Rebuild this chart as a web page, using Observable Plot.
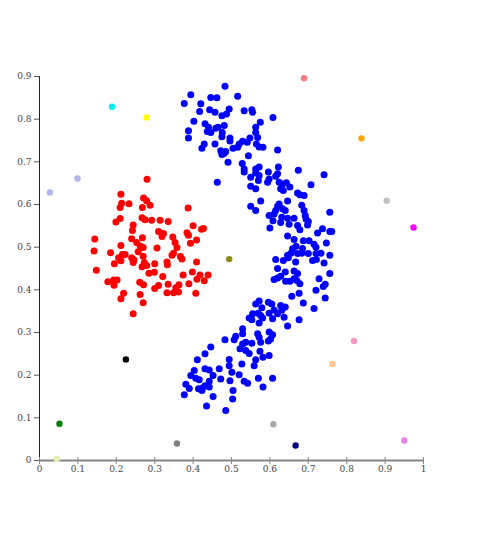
<!DOCTYPE html>
<html>
<head>
<meta charset="utf-8">
<script src="https://cdn.jsdelivr.net/npm/d3@7"></script>
<script src="https://cdn.jsdelivr.net/npm/@observablehq/plot@0.6"></script>
<style>
  body { margin: 0; background: #fff; }
  svg text { font-family: "DejaVu Serif", serif; }
</style>
</head>
<body>
<div id="chart"></div>
<script>
// Cluster 1 (red)
const redPoints = [
  [0.280,0.659],[0.212,0.624],[0.271,0.615],[0.279,0.609],[0.288,0.598],[0.268,0.593],[0.233,0.602],[0.214,0.603],
  [0.210,0.593],[0.387,0.592],[0.210,0.567],[0.199,0.559],[0.267,0.569],[0.275,0.564],[0.292,0.563],[0.314,0.563],
  [0.335,0.560],[0.244,0.552],[0.400,0.550],[0.422,0.542],[0.427,0.544],[0.242,0.539],[0.310,0.537],[0.323,0.532],
  [0.319,0.525],[0.384,0.534],[0.388,0.528],[0.144,0.519],[0.240,0.520],[0.268,0.522],[0.347,0.524],[0.409,0.517],
  [0.253,0.511],[0.393,0.509],[0.353,0.511],[0.212,0.504],[0.262,0.503],[0.270,0.499],[0.306,0.498],[0.358,0.499],
  [0.142,0.491],[0.185,0.487],[0.257,0.489],[0.349,0.486],[0.345,0.481],[0.223,0.483],[0.216,0.483],[0.206,0.475],
  [0.212,0.468],[0.240,0.475],[0.246,0.470],[0.270,0.479],[0.367,0.478],[0.371,0.472],[0.195,0.461],[0.244,0.464],
  [0.273,0.464],[0.267,0.454],[0.279,0.457],[0.300,0.461],[0.332,0.465],[0.333,0.459],[0.409,0.465],[0.148,0.446],
  [0.285,0.439],[0.299,0.441],[0.374,0.435],[0.398,0.442],[0.321,0.431],[0.418,0.435],[0.439,0.435],[0.410,0.425],
  [0.429,0.421],[0.178,0.419],[0.193,0.423],[0.202,0.423],[0.261,0.418],[0.271,0.412],[0.194,0.411],[0.389,0.414],
  [0.310,0.410],[0.300,0.403],[0.335,0.413],[0.363,0.412],[0.355,0.405],[0.219,0.392],[0.212,0.379],[0.262,0.389],
  [0.332,0.393],[0.349,0.393],[0.362,0.395],[0.407,0.392],[0.270,0.370],[0.244,0.344]
];

// Cluster 2 (blue), S-shaped
const bluePoints = [
  [0.483,0.877],[0.394,0.857],[0.446,0.851],[0.462,0.850],[0.516,0.854],[0.377,0.837],[0.420,0.836],[0.417,0.818],
  [0.443,0.822],[0.457,0.816],[0.494,0.824],[0.487,0.812],[0.475,0.808],[0.533,0.820],[0.553,0.822],[0.555,0.816],
  [0.608,0.804],[0.402,0.795],[0.431,0.789],[0.481,0.785],[0.440,0.781],[0.459,0.779],[0.465,0.781],[0.575,0.793],
  [0.563,0.781],[0.563,0.769],[0.388,0.773],[0.446,0.769],[0.437,0.771],[0.476,0.769],[0.475,0.759],[0.568,0.757],
  [0.388,0.756],[0.496,0.756],[0.496,0.749],[0.548,0.756],[0.541,0.746],[0.529,0.748],[0.520,0.742],[0.516,0.734],
  [0.457,0.742],[0.429,0.742],[0.423,0.732],[0.565,0.742],[0.572,0.735],[0.582,0.734],[0.504,0.732],[0.620,0.728],
  [0.472,0.726],[0.485,0.724],[0.475,0.717],[0.481,0.720],[0.544,0.714],[0.491,0.699],[0.528,0.696],[0.533,0.683],
  [0.572,0.688],[0.563,0.683],[0.622,0.688],[0.463,0.652],
  [0.533,0.676],[0.563,0.674],[0.572,0.668],[0.596,0.676],[0.620,0.672],[0.615,0.666],[0.674,0.680],[0.741,0.670],
  [0.550,0.664],[0.570,0.656],[0.598,0.660],[0.594,0.652],[0.624,0.652],[0.633,0.648],[0.643,0.651],[0.652,0.641],
  [0.550,0.643],[0.563,0.637],[0.628,0.637],[0.635,0.633],[0.707,0.646],[0.672,0.627],[0.678,0.623],[0.689,0.621],
  [0.576,0.608],[0.646,0.608],[0.624,0.601],[0.620,0.596],[0.550,0.596],[0.563,0.586],[0.683,0.598],[0.689,0.586],
  [0.633,0.590],[0.640,0.586],[0.615,0.586],[0.611,0.578],[0.598,0.574],[0.692,0.574],[0.694,0.566],[0.756,0.582],
  [0.631,0.570],[0.646,0.568],[0.663,0.568],[0.608,0.562],[0.700,0.560],[0.698,0.552],[0.628,0.558],[0.650,0.554],
  [0.672,0.551],[0.678,0.541],[0.600,0.545],[0.737,0.543],[0.724,0.533],[0.756,0.537],[0.761,0.537],[0.646,0.526],
  [0.663,0.518],[0.687,0.515],[0.702,0.515],[0.715,0.507],[0.720,0.500],[0.747,0.510],[0.668,0.502],[0.659,0.496],
  [0.685,0.497],
  [0.646,0.481],[0.655,0.486],[0.672,0.485],[0.683,0.486],[0.700,0.485],[0.720,0.485],[0.733,0.486],[0.756,0.481],
  [0.615,0.471],[0.635,0.469],[0.648,0.475],[0.667,0.465],[0.711,0.469],[0.721,0.471],[0.741,0.463],[0.620,0.450],
  [0.640,0.442],[0.663,0.444],[0.672,0.438],[0.756,0.438],[0.611,0.424],[0.620,0.428],[0.628,0.432],[0.641,0.420],
  [0.652,0.420],[0.663,0.426],[0.670,0.422],[0.678,0.414],[0.728,0.426],[0.744,0.413],[0.739,0.408],[0.720,0.399],
  [0.676,0.392],[0.657,0.385],[0.744,0.381],[0.687,0.369],[0.572,0.374],[0.563,0.367],[0.596,0.371],[0.605,0.367],
  [0.628,0.363],[0.640,0.360],[0.579,0.358],[0.611,0.353],[0.715,0.356],[0.555,0.344],[0.569,0.345],[0.576,0.340],
  [0.598,0.345],[0.620,0.344],[0.631,0.352],[0.637,0.336],[0.546,0.334],[0.553,0.330],[0.581,0.334],[0.607,0.332],
  [0.676,0.330],[0.572,0.322],[0.646,0.315],[0.529,0.309],
  [0.529,0.297],[0.511,0.291],[0.507,0.283],[0.568,0.297],[0.572,0.289],[0.598,0.301],[0.607,0.295],[0.602,0.285],
  [0.596,0.280],[0.483,0.283],[0.537,0.277],[0.529,0.273],[0.553,0.275],[0.576,0.277],[0.522,0.262],[0.537,0.258],
  [0.546,0.251],[0.574,0.256],[0.446,0.266],[0.431,0.250],[0.582,0.242],[0.598,0.246],[0.563,0.236],[0.411,0.236],
  [0.494,0.237],[0.527,0.226],[0.559,0.222],[0.494,0.222],[0.431,0.215],[0.442,0.212],[0.468,0.215],[0.403,0.211],
  [0.501,0.207],[0.520,0.201],[0.394,0.199],[0.407,0.193],[0.452,0.199],[0.416,0.189],[0.472,0.191],[0.496,0.187],
  [0.570,0.193],[0.607,0.193],[0.442,0.186],[0.533,0.186],[0.542,0.181],[0.381,0.179],[0.431,0.175],[0.424,0.170],
  [0.442,0.172],[0.390,0.169],[0.414,0.168],[0.423,0.164],[0.582,0.172],[0.504,0.164],[0.377,0.154],[0.452,0.150],
  [0.503,0.144],[0.435,0.128],[0.485,0.117]
];

// Outliers (each its own cluster)
const outlierX = [0.689,0.189,0.279,0.8385,0.099,0.027,0.904,0.974,0.494,0.225,0.819,0.763,0.052,0.045,0.358,0.609,0.667,0.950];
const outlierY = [0.896,0.829,0.804,0.755,0.661,0.628,0.609,0.546,0.472,0.237,0.280,0.226,0.086,0.004,0.040,0.085,0.035,0.047];
const outlierCluster = ["c3","c4","c5","c6","c7","c8","c9","c10","c11","c12","c13","c14","c15","c16","c17","c18","c19","c20"];

const xTicks = [0,0.1,0.2,0.3,0.4,0.5,0.6,0.7,0.8,0.9,1];
const xTickLabels = ["0","0.1","0.2","0.3","0.4","0.5","0.6","0.7","0.8","0.9","1"];
const yTicks = [0,0.1,0.2,0.3,0.4,0.5,0.6,0.7,0.8,0.9];
const yTickLabels = ["0","0.1","0.2","0.3","0.4","0.5","0.6","0.7","0.8","0.9"];

// colours for the outlier clusters
const outlierPalette = ["#f08080","#00f0f0","#ffff00","#f5a500","#b4b4ee","#b4b4ee","#c0c0c0","#ff00ff","#8c8c10","#000000","#f49ac1","#ffc68c","#008000","#e8f0b4","#808080","#a9a9a9","#000080","#ee82ee"];

const outliers = outlierX.map((x, i) => ({x, y: outlierY[i], cluster: outlierCluster[i]}));

const chart = Plot.plot({
  width: 500,
  height: 538,
  marginLeft: 39,
  marginRight: 77,
  marginTop: 76,
  marginBottom: 78,
  style: {fontFamily: "'DejaVu Serif', serif", fontSize: "9px", color: "#444", background: "#fff"},
  x: {domain: [0, 1]},
  y: {domain: [0, 0.9]},
  color: {domain: outlierCluster, range: outlierPalette},
  marks: [
    Plot.ruleX([0], {stroke: "#222", strokeWidth: 1}),
    Plot.ruleY([0], {stroke: "#888", strokeWidth: 2}),
    Plot.ruleX(xTicks, {x: d => d, y1: 0, y2: 0, insetTop: -3, insetBottom: -4, stroke: "#888"}),
    Plot.axisY({ticks: yTicks, tickFormat: d => yTickLabels[yTicks.indexOf(d)], tickSize: 5, tickPadding: 3, stroke: "#555", label: null}),
    Plot.axisX({ticks: xTicks, tickFormat: d => xTickLabels[xTicks.indexOf(d)], tickSize: 0, tickPadding: 5, label: null}),
    Plot.dot(redPoints, {x: d => d[0], y: d => d[1], r: 3.5, fill: "#ff0000"}),
    Plot.dot(bluePoints, {x: d => d[0], y: d => d[1], r: 3.5, fill: "#0000ff"}),
    Plot.dot(outliers, {x: "x", y: "y", r: 3.2, fill: "cluster"})
  ]
});
document.getElementById("chart").appendChild(chart);
</script>
</body>
</html>
